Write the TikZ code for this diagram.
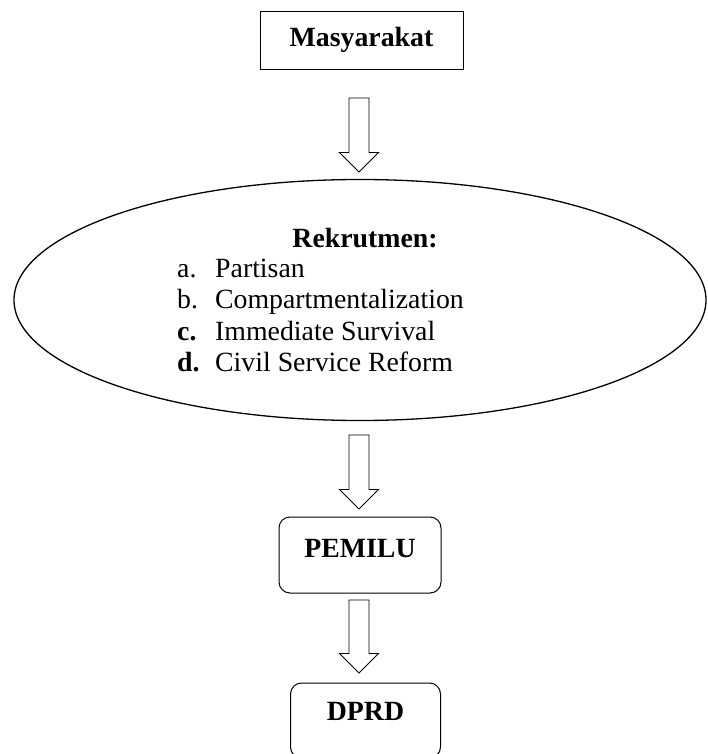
\documentclass[tikz,border=0pt]{standalone}
\usepackage{fontspec}
\setmainfont{Liberation Serif}
\usetikzlibrary{shapes.geometric,calc}
\begin{document}
\begin{tikzpicture}[x=1pt,y=-1pt,
  txt/.style={font=\fontsize{27.8}{31.6}\selectfont},
  boxsq/.style={draw,line width=1pt,inner sep=0pt,txt},
  boxrd/.style={draw,line width=1pt,rounded corners=11pt,inner sep=0pt,txt},
  oval/.style={draw,ellipse,line width=1.3pt,inner sep=0pt},
  barrow/.style={draw,line width=0.9pt,fill=white,line join=miter}
]
\useasboundingbox (0,0) rectangle (708,754);
% nodes
\node[boxsq,minimum width=203pt,minimum height=58pt,text height=19pt,text depth=7pt] (mas) at (361.5,41) {\textbf{Masyarakat}};
\node[oval,minimum width=692pt,minimum height=241pt] (rek) at (360,300) {};
\node[txt,anchor=base] (rektitle) at (365,247) {\textbf{Rekrutmen:}};
\node[txt,anchor=base west,inner sep=0pt] (reklist) at (177,277) {\begin{tabular}[t]{@{}p{38pt}@{}l@{}}
a. & Partisan\\
b. & Compartmentalization\\
\textbf{c.} & Immediate Survival\\
\textbf{d.} & Civil Service Reform
\end{tabular}};
\node[boxrd,minimum width=162pt,minimum height=76pt,text height=18pt,text depth=14pt] (pem) at (360,555) {\textbf{PEMILU}};
\node[boxrd,minimum width=150pt,minimum height=75pt,text height=18pt,text depth=19pt] (dprd) at (365.5,720.5) {\textbf{DPRD}};
% arrow end points
\coordinate (a1s) at (359,98);  \coordinate (a1e) at (359,172);
\coordinate (a2s) at (359,435); \coordinate (a2e) at (359,509);
\coordinate (a3s) at (359,600); \coordinate (a3e) at (359,673);
\foreach \s/\e in {a1s/a1e,a2s/a2e,a3s/a3e}{
  \draw[barrow] let \p1=(\s), \p2=(\e) in
    (\x1-10pt,\y1) -- (\x1+10pt,\y1) -- (\x1+10pt,\y2+19.5pt) -- (\x1+19.5pt,\y2+19.5pt)
    -- (\x2,\y2) -- (\x1-19.5pt,\y2+19.5pt) -- (\x1-10pt,\y2+19.5pt) -- cycle;
}
\end{tikzpicture}
\end{document}
